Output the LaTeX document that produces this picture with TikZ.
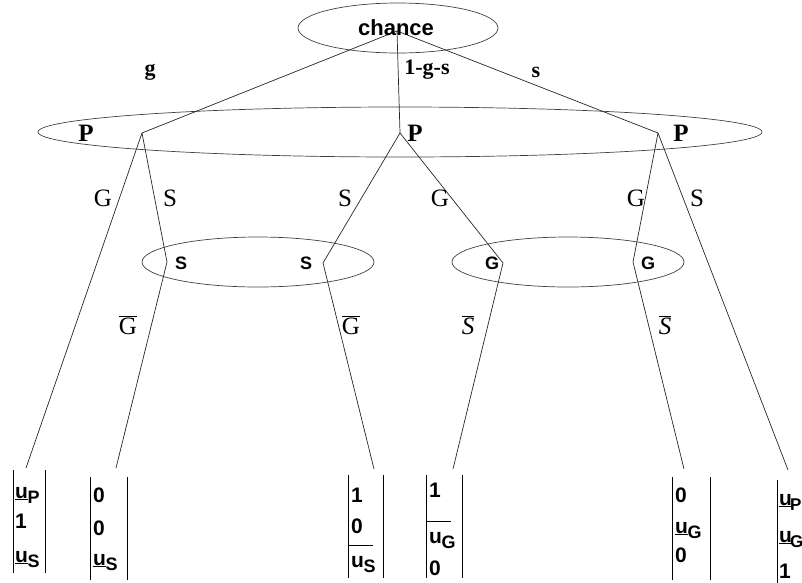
\documentclass[tikz,border=0pt]{standalone}
\usepackage{fontspec}
\setmainfont{Liberation Serif}
\newfontfamily\arialf{Liberation Sans}
\usetikzlibrary{shapes.geometric,calc}
\newcommand\uvar[1]{\underline{u}\kern-0.3pt\raisebox{-5pt}{\fontsize{18}{18}\selectfont #1}}
\newcommand\uvartight[1]{\underline{u}\kern-1.8pt\raisebox{-5pt}{\fontsize{17}{17}\selectfont #1}}
\newcommand\ovar[1]{\rlap{\hspace*{-3pt}\rule[21pt]{25pt}{0.9pt}}u\kern-0.3pt\raisebox{-5pt}{\fontsize{18}{18}\selectfont #1}}
\begin{document}
\begin{tikzpicture}[x=1pt,y=-1pt,
  infoset/.style={ellipse,draw=black!75,line width=0.7pt,inner sep=0pt},
  edge/.style={draw=black!85,line width=0.7pt},
  chlab/.style={font=\bfseries\fontsize{22}{22}\selectfont},
  act/.style={font=\fontsize{25}{25}\selectfont},
  plab/.style={font=\bfseries\fontsize{25}{25}\selectfont},
  ilab/.style={font=\arialf\bfseries\fontsize{18}{18}\selectfont},
  frame/.style={inner sep=0pt,minimum height=103pt,anchor=north west},
  entry/.style={inner sep=0pt,anchor=base west,font=\arialf\bfseries\fontsize{21}{21}\selectfont},
  bar/.style={draw=black,line width=0.9pt}]
\useasboundingbox (0,0) rectangle (802,582);
\clip (0,0) rectangle (802,582);
% information sets
\node[infoset,minimum width=200pt,minimum height=50pt] (chance) at (398,28) {};
\node[infoset,minimum width=724pt,minimum height=50pt] (Pset) at (400,132) {};
\node[infoset,minimum width=232pt,minimum height=50pt] (Sset) at (258,262) {};
\node[infoset,minimum width=232pt,minimum height=50pt] (Gset) at (568,262) {};
% decision points
\coordinate (r) at (397,31);
\coordinate (p1) at (142,133);
\coordinate (p2) at (400,133);
\coordinate (p3) at (658,133);
\coordinate (i1) at (167,262);
\coordinate (i2) at (323,263);
\coordinate (i3) at (503,263);
\coordinate (i4) at (633,262);
% payoff vectors (frames)
\node[frame,minimum width=32pt] (v1) at (13,470) {};
\node[frame,minimum width=37pt] (v2) at (90,477) {};
\node[frame,minimum width=35pt] (v3) at (348,475) {};
\node[frame,minimum width=36pt] (v4) at (426,475) {};
\node[frame,minimum width=38pt] (v5) at (672,477) {};
\node[frame,minimum width=38pt] (v6) at (777,480) {};
\foreach \v in {v1,v2,v3,v4,v5,v6}{
  \draw[bar] (\v.north west) -- (\v.south west) (\v.north east) -- (\v.south east);
}
% entries
\node[entry] (v1a) at ($(v1.north west)+(2,28)$) {\uvar{P}};
\node[entry] (v1b) at ($(v1.north west)+(2,58)$) {1};
\node[entry] (v1c) at ($(v1.north west)+(2,92)$) {\uvar{S}};
\node[entry] (v2a) at ($(v2.north west)+(3,25)$) {0};
\node[entry] (v2b) at ($(v2.north west)+(3,58)$) {0};
\node[entry] (v2c) at ($(v2.north west)+(3,88)$) {\uvar{S}};
\node[entry] (v3a) at ($(v3.north west)+(3,27)$) {1};
\node[entry] (v3b) at ($(v3.north west)+(3,58)$) {0};
\node[entry] (v3c) at ($(v3.north west)+(3,92)$) {\ovar{S}};
\node[entry] (v4a) at ($(v4.north west)+(3,22)$) {1};
\node[entry] (v4b) at ($(v4.north west)+(3,68)$) {\ovar{G}};
\node[entry] (v4c) at ($(v4.north west)+(3,100)$) {0};
\node[entry] (v5a) at ($(v5.north west)+(3,25)$) {0};
\node[entry] (v5b) at ($(v5.north west)+(3,56)$) {\uvar{G}};
\node[entry] (v5c) at ($(v5.north west)+(3,85)$) {0};
\node[entry] (v6a) at ($(v6.north west)+(2,25)$) {\uvartight{P}};
\node[entry] (v6b) at ($(v6.north west)+(2,62)$) {\uvartight{G}};
\node[entry] (v6c) at ($(v6.north west)+(2,98)$) {1};
% leaf ends
\coordinate (l1) at (26,468);
\coordinate (l2) at (116,468);
\coordinate (l3) at (374,469);
\coordinate (l4) at (453,469);
\coordinate (l5) at (684,469);
\coordinate (l6) at (788,470);
% edges
\draw[edge] (r) -- (p1);
\draw[edge] (r) -- (p2);
\draw[edge] (r) -- (p3);
\draw[edge] (p1) -- (l1);
\draw[edge] (p1) -- (i1) -- (l2);
\draw[edge] (p2) -- (i2) -- (l3);
\draw[edge] (p2) -- (i3) -- (l4);
\draw[edge] (p3) -- (i4) -- (l5);
\draw[edge] (p3) -- (l6);
% labels
\node[ilab,font=\arialf\bfseries\fontsize{22}{22}\selectfont] (tch) at (396,28) {chance};
\node[chlab] (tg) at (150,72) {g};
\node[chlab] (tgs) at (427,70) {1-g-s};
\node[chlab] (ts) at (536,72) {s};
\node[plab] (P1) at (86,133) {P};
\node[plab] (P2) at (415,133) {P};
\node[plab] (P3) at (681,133) {P};
\node[act] (a1) at (103,198) {G};
\node[act] (a2) at (170,198) {S};
\node[act] (a3) at (345,198) {S};
\node[act] (a4) at (440,198) {G};
\node[act] (a5) at (636,198) {G};
\node[act] (a6) at (697,198) {S};
\node[ilab] (S1) at (181,263) {S};
\node[ilab] (S2) at (306,263) {S};
\node[ilab] (G1) at (492,263) {G};
\node[ilab] (G2) at (648,263) {G};
\node[act] (b1) at (128,325) {$\overline{\hbox{G}}$};
\node[act] (b2) at (351,325) {$\overline{\hbox{G}}$};
\node[act] (b3) at (468,325) {$\overline{\hbox{\itshape S}}$};
\node[act] (b4) at (665,325) {$\overline{\hbox{\itshape S}}$};
\end{tikzpicture}
\end{document}
